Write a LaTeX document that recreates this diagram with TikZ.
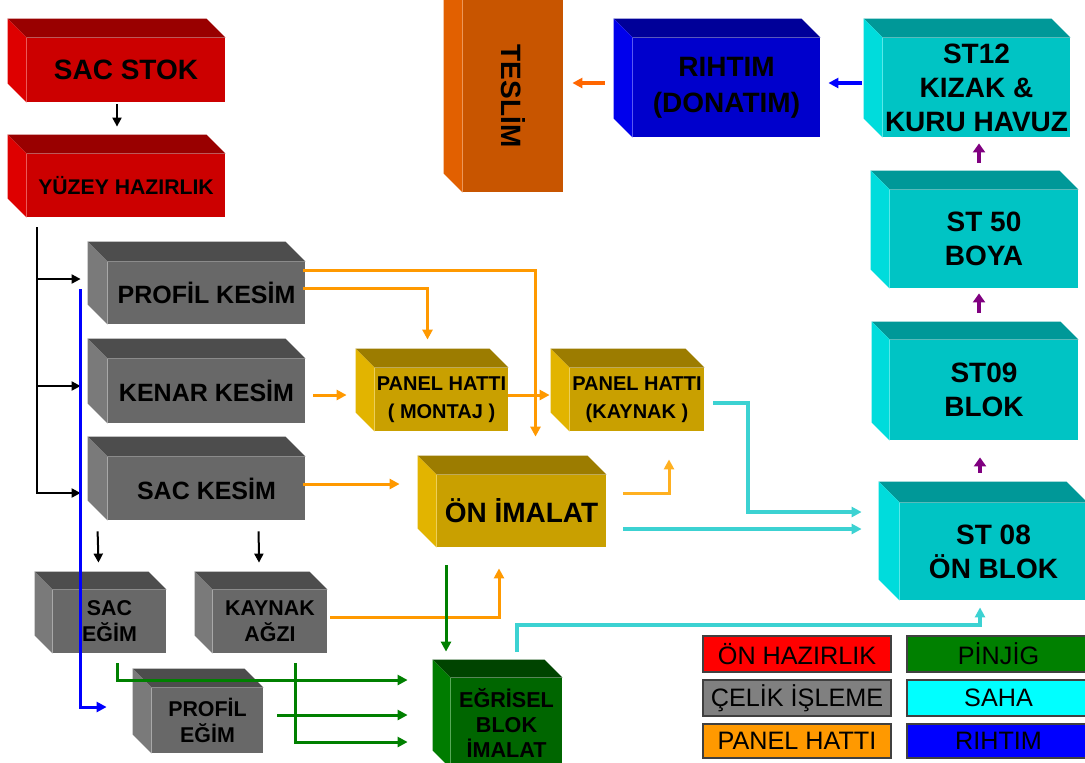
\documentclass[tikz,border=0pt]{standalone}
\usepackage{fontspec}
\setmainfont{Liberation Sans}
\usetikzlibrary{arrows.meta}

\definecolor{kirmiziOn}{HTML}{CC0000}
\definecolor{kirmiziUst}{HTML}{990000}
\definecolor{kirmiziYan}{HTML}{DE0000}
\definecolor{griOn}{HTML}{686868}
\definecolor{griUst}{HTML}{4D4D4D}
\definecolor{griYan}{HTML}{7A7A7A}
\definecolor{altinOn}{HTML}{C9A000}
\definecolor{altinUst}{HTML}{9C7C00}
\definecolor{altinYan}{HTML}{E2B400}
\definecolor{yesilOn}{HTML}{006600}
\definecolor{yesilUst}{HTML}{004400}
\definecolor{yesilYan}{HTML}{007C00}
\definecolor{turuncuOn}{HTML}{C85500}
\definecolor{turuncuUst}{HTML}{9A4200}
\definecolor{turuncuYan}{HTML}{E26000}
\definecolor{maviOn}{HTML}{0000CC}
\definecolor{maviUst}{HTML}{000099}
\definecolor{maviYan}{HTML}{0000EC}
\definecolor{camOn}{HTML}{00C4C4}
\definecolor{camUst}{HTML}{009898}
\definecolor{camYan}{HTML}{00DCDC}
\definecolor{okTuruncu}{HTML}{FF9900}
\definecolor{okSari}{HTML}{FFB020}
\definecolor{okKoyu}{HTML}{FF6600}
\definecolor{okCam}{HTML}{3CD2D2}
\definecolor{okYesil}{HTML}{008000}
\definecolor{okMavi}{HTML}{0000FF}
\definecolor{okMor}{HTML}{800080}
\definecolor{cerceve}{HTML}{404040}
\definecolor{lKirmizi}{HTML}{FF0000}
\definecolor{lGri}{HTML}{808080}
\definecolor{lCam}{HTML}{00FFFF}

\tikzset{>={Triangle[length=5pt,width=5pt]}}
\tikzset{
    boy/.style 2 args={minimum width=#1*0.5pt,minimum height=#2*0.5pt},
    kutu/.style={rectangle,inner sep=0pt,align=center,fill=#1On,
        font=\bfseries\fontsize{12.5}{15}\selectfont},
    buyuk/.style={font=\bfseries\fontsize{14}{17}\selectfont},
    kucuk/.style={font=\bfseries\fontsize{10.7}{13}\selectfont},
    panel/.style={font=\bfseries\fontsize{10}{14}\selectfont},
    lejant/.style={rectangle,draw=cerceve,line width=1pt,inner sep=0pt,
        font=\fontsize{12.6}{15}\selectfont},
    siyah/.style={->,line width=1pt,>={Triangle[length=4.5pt,width=4.5pt]}},
    turuncu/.style={->,draw=okTuruncu,line width=1.5pt},
    cam/.style={->,draw=okCam,line width=2pt},
    yesil/.style={->,draw=okYesil,line width=1.5pt},
    mor/.style={->,draw=okMor,line width=2pt,>={Triangle[length=4.5pt,width=6pt]}},
}

\begin{document}
\begin{tikzpicture}[x=0.5pt,y=-0.5pt]
    \useasboundingbox (0,0) rectangle (1085,762);
    \clip (0,0) rectangle (1085,762);
    \fill[white] (0,0) rectangle (1085,762);

    % on hazirlik
    \node[kutu=kirmizi,buyuk,boy={198}{64}] (stok) at (126,70) {SAC STOK};
    \node[kutu=kirmizi,font=\bfseries\fontsize{10.6}{13}\selectfont,boy={198}{63}] (yuzey) at (126,185.5) {YÜZEY HAZIRLIK};

    % celik isleme
    \node[kutu=gri,boy={197}{62}] (profil) at (206.5,293) {PROFİL KESİM};
    \node[kutu=gri,boy={197}{64}] (kenar) at (206.5,391) {KENAR KESİM};
    \node[kutu=gri,boy={197}{63}] (sackesim) at (206.5,488.5) {SAC KESİM};
    \node[kutu=gri,kucuk,boy={113}{63}] (sacegim) at (109.5,621.5) {SAC\\EĞİM};
    \node[kutu=gri,kucuk,boy={114}{63}] (agiz) at (270,621.5) {KAYNAK\\AĞZI};
    \node[kutu=gri,kucuk,boy={111}{65}] (profilegim) at (207.5,720.5) {PROFİL\\EĞİM};

    % panel hatti
    \node[kutu=altin,panel,boy={133}{63}] (montaj) at (441.5,399.5) {PANEL HATTI\\( MONTAJ )};
    \node[kutu=altin,panel,boy={134}{63}] (pkaynak) at (637,399.5) {PANEL HATTI\\(KAYNAK )};
    \node[kutu=altin,buyuk,boy={169}{72}] (onimalat) at (521.5,511) {ÖN İMALAT};

    % pinjig
    \node[kutu=yesil,font=\bfseries\fontsize{10.8}{12.5}\selectfont,boy={111}{90}] (egrisel) at (506.5,723) {EĞRİSEL\\BLOK\\İMALAT};

    % saha, rihtim
    \node[kutu=turuncu,boy={100}{192}] (teslim) at (513,96) {\fontsize{14}{17}\selectfont\rotatebox{-90}{TESLİM}};
    \node[kutu=mavi,font=\bfseries\fontsize{14}{18}\selectfont,boy={187}{99}] (rihtim) at (726.5,87.5) {RIHTIM\\(DONATIM)};
    \node[kutu=cam,buyuk,boy={187}{99}] (st12) at (976.5,87.5) {ST12\\KIZAK \&\\KURU HAVUZ};
    \node[kutu=cam,buyuk,boy={188}{98}] (st50) at (984,239) {ST 50\\BOYA};
    \node[kutu=cam,buyuk,boy={188}{100}] (st09) at (984,390) {ST09\\BLOK};
    \node[kutu=cam,buyuk,boy={187}{97}] (st08) at (993.5,551.5) {ST 08\\ÖN BLOK};

    % kutularin ust ve yan yuzleri
    \foreach \ad/\renk/\derin in {stok/kirmizi/19, yuzey/kirmizi/19,
        profil/gri/20, kenar/gri/20, sackesim/gri/20, sacegim/gri/18,
        agiz/gri/18, profilegim/gri/19, montaj/altin/19, pkaynak/altin/19,
        onimalat/altin/19, egrisel/yesil/18, teslim/turuncu/19,
        rihtim/mavi/19, st12/cam/19, st50/cam/19, st09/cam/18, st08/cam/21}{
        \fill[\renk Ust] (\ad.north west) -- ++(-\derin,-\derin)
            -- ([shift={(-\derin,-\derin)}]\ad.north east) -- (\ad.north east) -- cycle;
        \fill[\renk Yan] (\ad.north west) -- ++(-\derin,-\derin)
            -- ([shift={(-\derin,-\derin)}]\ad.south west) -- (\ad.south west) -- cycle;
    }

    % lejant
    \node[lejant,fill=lKirmizi,boy={188}{36}] (lhazir) at (797,654) {ÖN HAZIRLIK};
    \node[lejant,fill=lGri,boy={188}{36}] (lcelik) at (797,698) {ÇELİK İŞLEME};
    \node[lejant,fill=okTuruncu,boy={188}{34}] (lpanel) at (797,741) {PANEL HATTI};
    \node[lejant,fill=okYesil,boy={183}{36}] (lpinjig) at (998.5,654) {PİNJİG};
    \node[lejant,fill=lCam,boy={183}{36}] (lsaha) at (998.5,698) {SAHA};
    \node[lejant,fill=okMavi,boy={183}{34}] (lrihtim) at (998.5,741) {RIHTIM};

    % siyah oklar
    \draw[siyah] ([shift={(-9,2)}]stok.south) -- ([shift={(-9,-27)}]yuzey.north);
    \coordinate (kol) at ([shift={(10,10)}]yuzey.south west);
    \draw[siyah] (kol) |- ([shift={(-27,-14)}]profil.west);
    \draw[siyah] (kol) |- ([shift={(-27,-5)}]kenar.west);
    \draw[siyah] (kol) |- ([shift={(-27,4.5)}]sackesim.west);
    \draw[siyah] ([shift={(-10,11)}]sackesim.south west) -- ([shift={(-11,-27)}]sacegim.north);
    \draw[siyah] ([shift={(151,11)}]sackesim.south west) -- ([shift={(-11,-27)}]agiz.north);

    % mavi
    \draw[->,draw=okMavi,line width=1.5pt] ([shift={(-27,-35)}]profil.south west) |- ([shift={(-45,-13.5)}]profilegim.west);

    % turuncu
    \draw[turuncu] ([shift={(-2,9)}]profil.north east) -| ([shift={(14,-38)}]onimalat.north);
    \draw[turuncu] ([shift={(-2,-5)}]profil.east) -| ([shift={(-14,-28)}]montaj.north);
    \draw[turuncu] ([shift={(8,4)}]kenar.east) -- ([shift={(-28,-4.5)}]montaj.west);
    \draw[turuncu] ([shift={(0,-4.5)}]montaj.east) -- ([shift={(-20,-4.5)}]pkaynak.west);
    \draw[turuncu] ([shift={(-2,-4.5)}]sackesim.east) -- ([shift={(-37,-27)}]onimalat.west);
    \draw[turuncu,draw=okSari] ([shift={(17,-18)}]onimalat.east) -| ([shift={(32,28)}]pkaynak.south);
    \draw[turuncu] ([shift={(3,-4.5)}]agiz.east) -| ([shift={(-22.5,21)}]onimalat.south);

    % yesil
    \draw[yesil] ([shift={(-75.5,18)}]onimalat.south) -- ([shift={(-60.5,-26)}]egrisel.north);
    \draw[yesil] ([shift={(7.5,10)}]sacegim.south) |- ([shift={(-43,-43)}]egrisel.west);
    \draw[yesil] ([shift={(14,-5.5)}]profilegim.east) -- ([shift={(-43,-8)}]egrisel.west);
    \draw[yesil] ([shift={(25,10)}]agiz.south) |- ([shift={(-43,19)}]egrisel.west);

    % camgobegi
    \draw[cam] ([shift={(9,3.5)}]pkaynak.east) -- ++(35,0) |- ([shift={(-38,-39.5)}]st08.west);
    \draw[cam] ([shift={(17,18)}]onimalat.east) -- ([shift={(-38,-22.5)}]st08.west);
    \draw[cam] ([shift={(10.5,-26)}]egrisel.north) -- ++(0,-27) -| ([shift={(-13.5,7)}]st08.south);

    % ust sira
    \draw[->,draw=okKoyu,line width=2pt] ([shift={(-28,-4.5)}]rihtim.west) -- ([shift={(9,-13)}]teslim.east);
    \draw[->,draw=okMavi,line width=2pt] ([shift={(-21,-4.5)}]st12.west) -- ([shift={(8,-4.5)}]rihtim.east);
    \draw[mor] ([shift={(-5,-27)}]st50.north) -- ([shift={(2.5,6)}]st12.south);
    \draw[mor] ([shift={(-5,-27)}]st09.north) -- ([shift={(-5,5)}]st50.south);
    \draw[mor] ([shift={(-13.5,-30)}]st08.north) -- ([shift={(-4,17)}]st09.south);
\end{tikzpicture}
\end{document}
